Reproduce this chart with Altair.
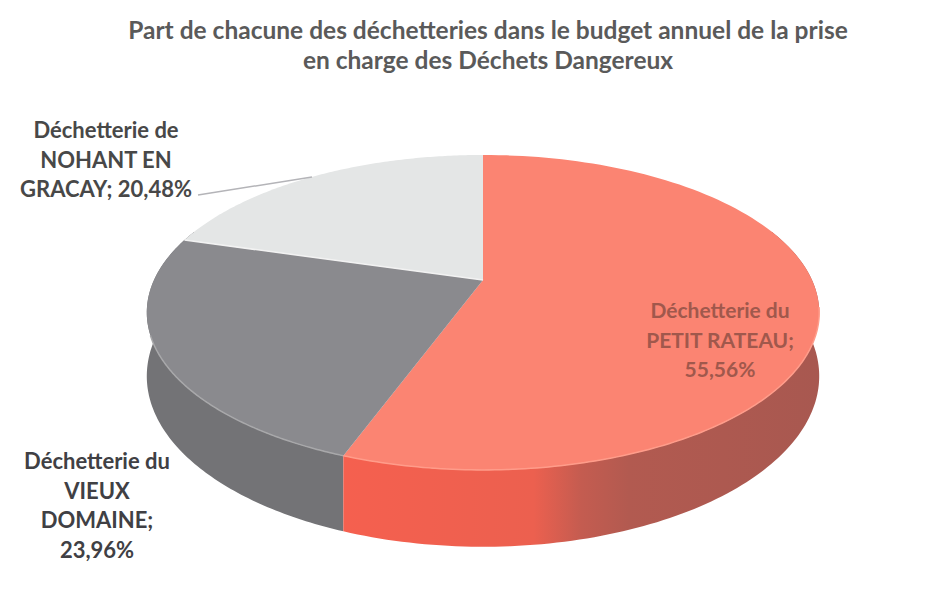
import math
import altair as alt
import pandas as pd

# --- values
names = ["Déchetterie du PETIT RATEAU", "Déchetterie du VIEUX DOMAINE", "Déchetterie de NOHANT EN GRACAY"]
shares = [55.56, 23.96, 20.48]
top_colors = ["#fb8472", "#8a8a8e", "#e4e6e6"]
title_lines = ["Part de chacune des déchetteries dans le budget annuel de la prise",
               "en charge des Déchets Dangereux"]
label_red = "Déchetterie du\nPETIT RATEAU;\n55,56%"
label_gray = "Déchetterie du\nVIEUX\nDOMAINE;\n23,96%"
label_light = "Déchetterie de\nNOHANT EN\nGRACAY; 20,48%"

# --- perspective of the tilted pie (layout, in page pixels)
CX, CY, A, B, K, DEPTH = 483, 280, 329, 150.8, 0.206, 61


def project(theta, drop=0.0):
    u, v = math.sin(theta), math.cos(theta)
    w = 1 + K * v
    return CX + A * u / w, CY - B * v / w + drop / w


def arc_angles(a0, a1, n=120):
    return [math.radians(a0 + (a1 - a0) * i / n) for i in range(n + 1)]


def table(pts):
    return pd.DataFrame([{"x": x, "y": y, "o": i} for i, (x, y) in enumerate(pts)])


def face(share_from, share_to):
    a0, a1 = share_from * 3.6, share_to * 3.6
    return table([(CX, CY)] + [project(t) for t in arc_angles(a0, a1)])


def wall(a0, a1):
    ang = arc_angles(a0, a1)
    return table([project(t) for t in ang] + [project(t, DEPTH) for t in reversed(ang)])


xs = alt.X("x:Q", scale=alt.Scale(domain=[8, 930]), axis=None)
ys = alt.Y("y:Q", scale=alt.Scale(domain=[592, 8]), axis=None)


def poly(df, fill):
    return alt.Chart(df).mark_line(fill=fill, stroke=None, strokeWidth=0).encode(
        x=xs, y=ys, order="o:Q")


def edge(pts, color, width=1.5):
    return alt.Chart(table(pts)).mark_line(color=color, strokeWidth=width).encode(
        x=xs, y=ys, order="o:Q")


cum = [0, shares[0], shares[0] + shares[1], 100]
end_red = cum[1] * 3.6
end_gray = cum[2] * 3.6

red_grad = alt.Gradient(gradient="linear", x1=0, x2=1, y1=0, y2=0, stops=[
    alt.GradientStop(offset=0, color="#f5604f"),
    alt.GradientStop(offset=0.40, color="#ec604f"),
    alt.GradientStop(offset=0.50, color="#c45c50"),
    alt.GradientStop(offset=0.60, color="#b25a50"),
    alt.GradientStop(offset=1, color="#a85850"),
])

layers = [
    poly(wall(end_red, 290), "#737376"),
    poly(wall(70, end_red), red_grad),
]
for i in range(3):
    layers.append(poly(face(cum[i], cum[i + 1]), top_colors[i]))

# lighter bevel along the rim and the slice edge
layers.append(edge([project(t) for t in arc_angles(end_red, 250)], "#a8a8aa"))
layers.append(edge([project(t) for t in arc_angles(100, end_red)], "#ff9c8a"))
layers.append(edge([(CX, CY), project(math.radians(end_gray))], "#f2f2f2"))

layers.append(alt.Chart(pd.DataFrame({"a": [0]})).mark_rule(color="#b4b4b8", strokeWidth=1.5).encode(
    x=alt.value(190), x2=alt.value(304), y=alt.value(187), y2=alt.value(169)))


def text(label, px, py, color, size=22):
    return alt.Chart(pd.DataFrame({"t": [label]})).mark_text(
        font="Lato", fontWeight="bold", fontSize=size, color=color, lineBreak="\n",
        lineHeight=29.5, align="center", baseline="middle").encode(
        text="t:N", x=alt.value(px - 8), y=alt.value(py - 8))


layers.append(text(label_light, 106, 131, "#484848"))
layers.append(text(label_gray, 97, 462, "#404044"))
layers.append(text(label_red, 720, 312, "#a0584c", 21))

chart = alt.layer(*layers).properties(
    width=922, height=584, padding=0,
    autosize=alt.AutoSizeParams(type="none"),
    background="white",
    title=alt.TitleParams(text=title_lines, font="Lato", fontSize=24.5, fontWeight="bold",
                          color="#5a5a5a", anchor="middle", dx=19, dy=66, lineHeight=30, offset=0),
).configure_view(stroke=None)

chart.save("out.html", embed_options={"renderer": "svg", "actions": False})
